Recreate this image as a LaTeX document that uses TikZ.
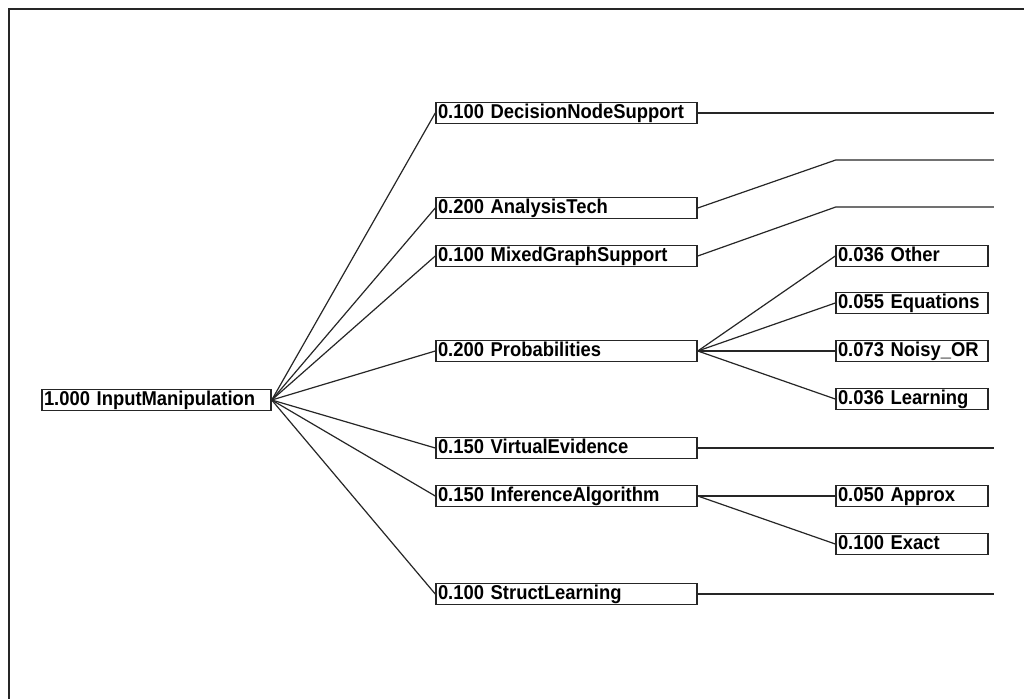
\documentclass[tikz,border=0pt]{standalone}
\usepackage{fontspec}
\setmainfont{Liberation Sans}
\newfontfamily\boxfont[FakeStretch=0.92]{Liberation Sans}
\usetikzlibrary{positioning}

\tikzset{
   box/.style={draw=black!85, line width=1.5pt, rectangle, align=left,
      inner xsep=2pt, inner ysep=2pt, text height=14pt, text depth=3pt,
      font=\boxfont\fontsize{20}{21}\selectfont\bfseries},
   box0/.style={box, text width=225pt},
   box1/.style={box, text width=257pt},
   box2/.style={box, text width=148pt},
   link/.style={draw=black!85, line width=1.2pt},
}

\begin{document}
\begin{tikzpicture}[x=1pt, y=1pt]
   \useasboundingbox (0,0) rectangle (1024,-698);
   \fill[white] (0,0) rectangle (1024,-698);
   \clip (0,0) rectangle (1024,-698);
   \draw[line width=2pt, black!85] (8.5,-9.5) rectangle (1060,-740);

   \node[box0] (root) at (156.5,-400) {1.000 InputManipulation};

   \node[box1, on grid, above right=287pt and 410pt of root] (dns) {0.100 DecisionNodeSupport};
   \node[box1, on grid, above right=192pt and 410pt of root] (at) {0.200 AnalysisTech};
   \node[box1, on grid, above right=144pt and 410pt of root] (mgs) {0.100 MixedGraphSupport};
   \node[box1, on grid, above right=49pt and 410pt of root] (prob) {0.200 Probabilities};
   \node[box1, on grid, below right=48pt and 410pt of root] (ve) {0.150 VirtualEvidence};
   \node[box1, on grid, below right=96pt and 410pt of root] (ia) {0.150 InferenceAlgorithm};
   \node[box1, on grid, below right=194pt and 410pt of root] (sl) {0.100 StructLearning};

   \node[box2, on grid, above right=95pt and 345.5pt of prob] (oth) {0.036 Other};
   \node[box2, on grid, above right=48pt and 345.5pt of prob] (eqn) {0.055 Equations};
   \node[box2, on grid, right=345.5pt of prob] (noisy) {0.073 Noisy\_OR};
   \node[box2, on grid, below right=48pt and 345.5pt of prob] (lrn) {0.036 Learning};

   \node[box2, on grid, right=345.5pt of ia] (apx) {0.050 Approx};
   \node[box2, on grid, below right=48pt and 345.5pt of ia] (exa) {0.100 Exact};

   % loose ends on the right
   \coordinate[right=296pt of dns] (dns1);
   \coordinate[above right=48pt and 138pt of at.east] (at1);
   \coordinate[right=158pt of at1] (at2);
   \coordinate[above right=49pt and 138pt of mgs.east] (mgs1);
   \coordinate[right=158pt of mgs1] (mgs2);
   \coordinate[right=296pt of ve] (ve1);
   \coordinate[right=296pt of sl] (sl1);

   \foreach \c in {dns,at,mgs,prob,ve,ia,sl}
      \path[link] (root.east) -- (\c.west);
   \foreach \c in {oth,eqn,noisy,lrn}
      \path[link] (prob.east) -- (\c.west);
   \foreach \c in {apx,exa}
      \path[link] (ia.east) -- (\c.west);

   \path[link] (dns.east) -- (dns1);
   \path[link] (at.east) -- (at1) -- (at2);
   \path[link] (mgs.east) -- (mgs1) -- (mgs2);
   \path[link] (ve.east) -- (ve1);
   \path[link] (sl.east) -- (sl1);
\end{tikzpicture}
\end{document}
